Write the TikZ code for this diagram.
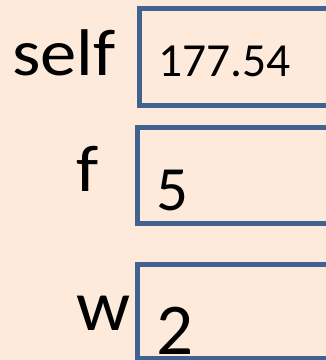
\documentclass[tikz,border=0pt]{standalone}
\usepackage{fontspec}
\newfontfamily\carlito{Carlito}
\definecolor{bgpeach}{HTML}{FDEADA}
\definecolor{boxblue}{HTML}{3F6290}
\tikzset{
  valbox/.style={draw=boxblue, line width=5pt, fill=bgpeach, rectangle, inner sep=0pt},
  lbl/.style={anchor=base west, inner sep=0pt, text=black},
}
\newcommand{\fsz}[1]{\carlito\fontsize{#1}{#1}\selectfont}
\begin{document}
\begin{tikzpicture}[x=1pt, y=-1pt]
\useasboundingbox (0,0) rectangle (326,360);
\fill[bgpeach] (0,0) rectangle (326,360);
\clip (0,0) rectangle (326,360);
\node[valbox, minimum width=205.5pt, minimum height=96.5pt] (b1) at (242.25,56.75) {};
\node[valbox, minimum width=207.5pt, minimum height=96pt] (b2) at (241.25,175) {};
\node[valbox, minimum width=207.5pt, minimum height=94pt] (b3) at (241.25,311) {};
\node[lbl, font=\fsz{66}] (lself) at (12,75) {\scalebox{1.1}[1]{self}};
\node[lbl, font=\fsz{47.5}] (v1) at (158.5,76.7) {177.54};
\node[lbl, font=\fsz{66}] (lf) at (76,191.7) {\scalebox{1.1}[1]{f}};
\node[lbl, font=\fsz{63}] (v2) at (156.5,210) {5};
\node[lbl, font=\fsz{72}] (lw) at (76,330) {\scalebox{1.05}[1]{w}};
\node[lbl, font=\fsz{73}] (v3) at (156,354) {2};
\end{tikzpicture}
\end{document}
